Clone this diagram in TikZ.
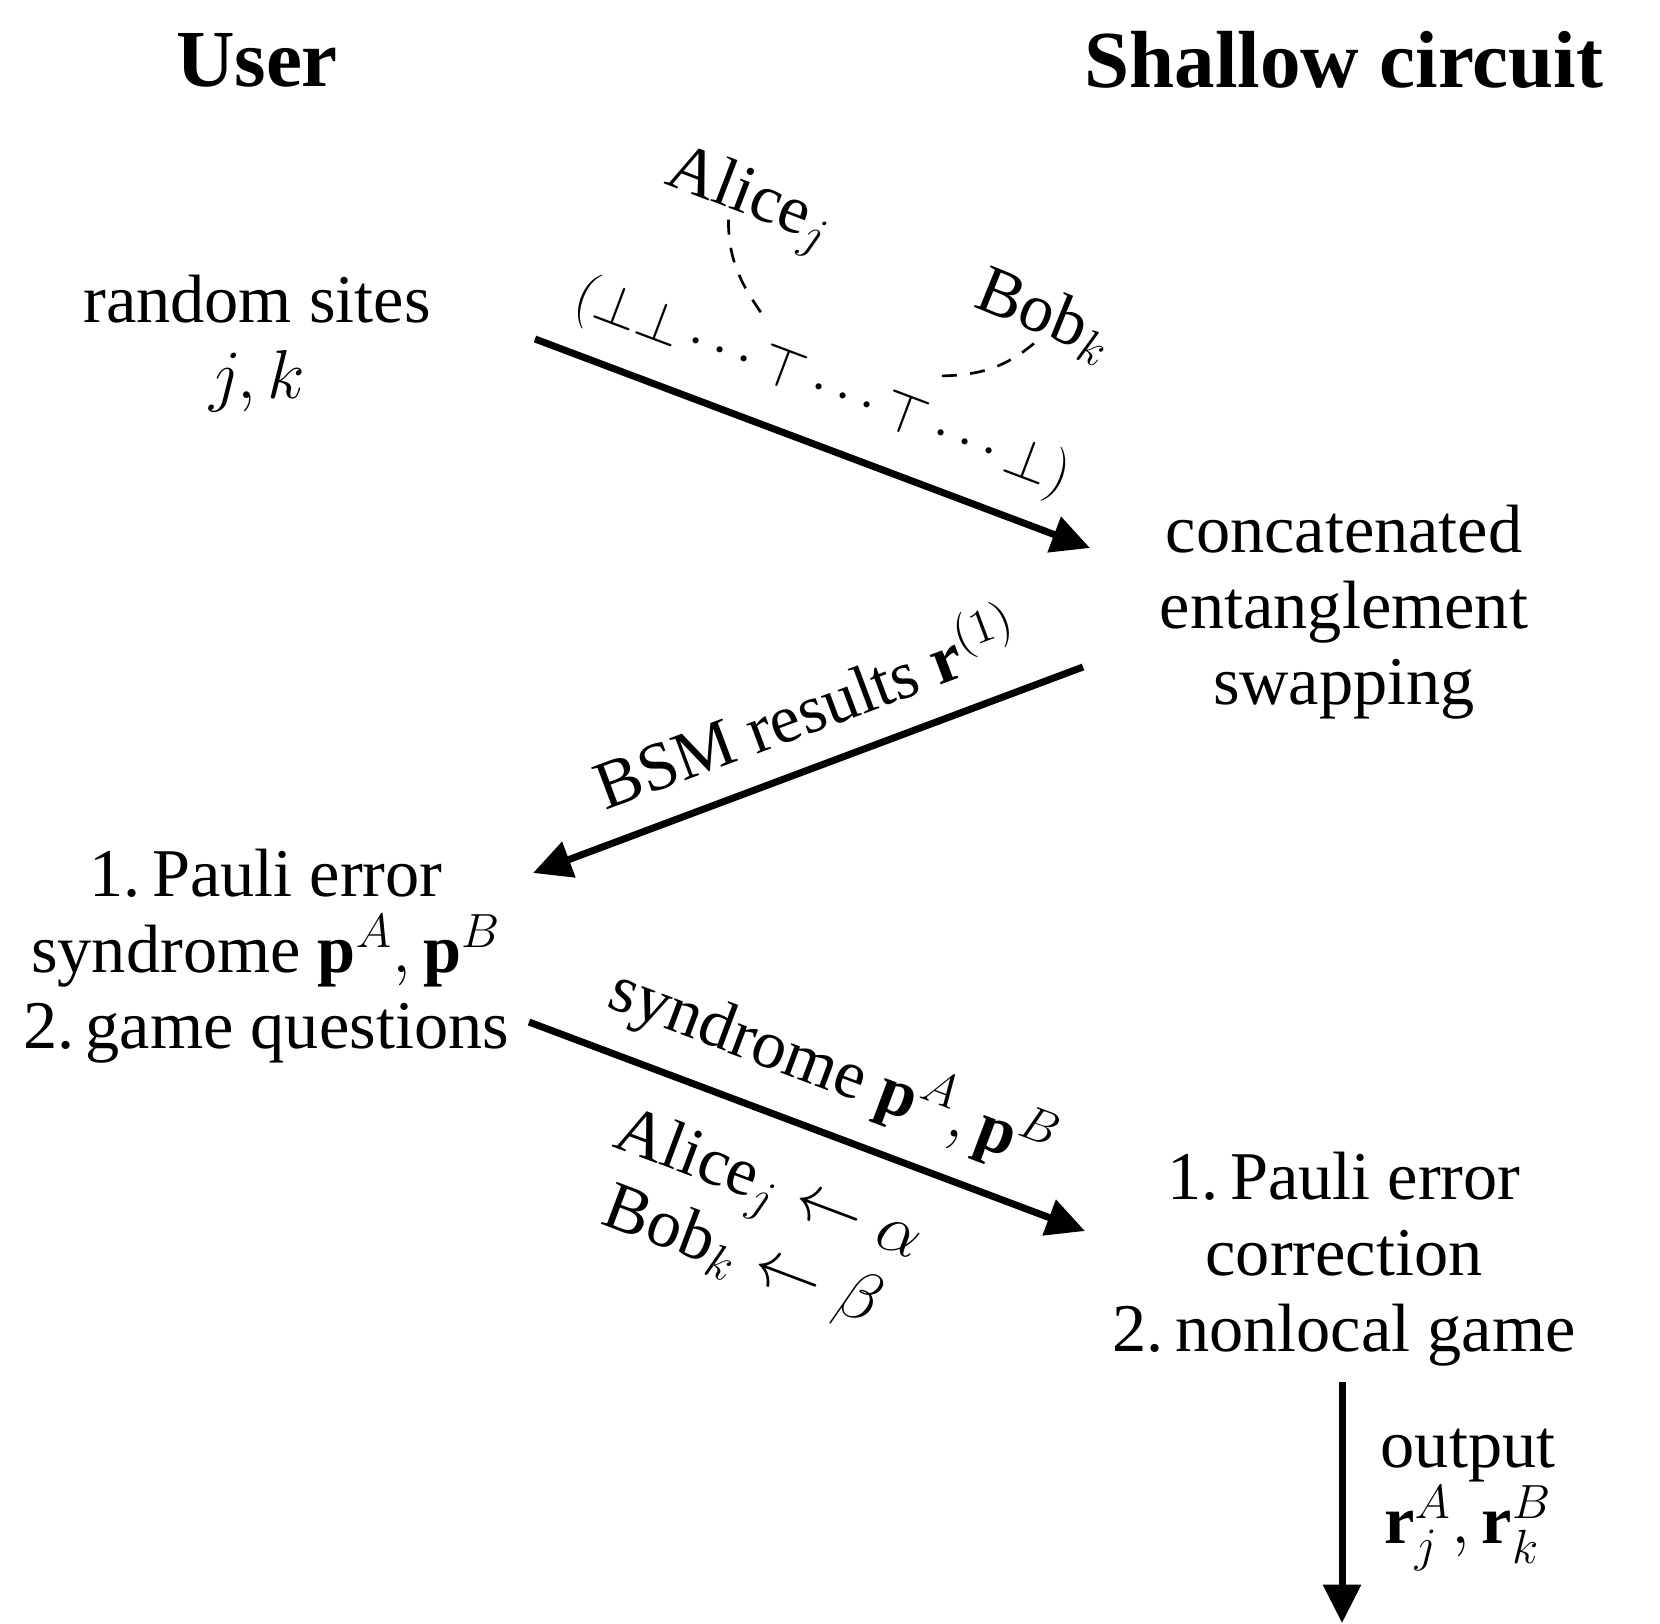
\documentclass[tikz,border=0pt]{standalone}
\usepackage{amsmath,amssymb}
\usepackage{fontspec}
\setmainfont{Liberation Serif}
\usepackage{tikz}
\usetikzlibrary{arrows.meta,calc}
\tikzset{
  >={Triangle[length=11.5pt,width=11pt]},
  flow/.style={->,line width=2.1pt},
  dlink/.style={dash pattern=on 4.5pt off 4pt,line width=0.8pt},
  hdr/.style={font=\fontsize{24.3}{28}\selectfont\bfseries,inner sep=0pt},
  txt/.style={align=center,inner sep=0pt},
  albl/.style={inner sep=0pt},
}

\begin{document}
\begin{tikzpicture}[x=0.3pt,y=0.3pt,
    every node/.style={font=\fontsize{20.5}{22.8}\selectfont}]
  \useasboundingbox (0,0) rectangle (1660,1623);
  % headers
  \node[hdr] (user) at (257,1563) {User};
  \node[hdr] (shallow) at (1344,1563) {Shallow circuit};
  % user and circuit steps
  \node[txt] (rs) at (257,1279) {random sites\\$j,k$};
  \node[txt] (cs) at (1344,1011) {concatenated\\entanglement\\swapping};
  \node[txt] (pe1) at (266,667) {1.\,Pauli error\\syndrome $\mathbf{p}^A,\mathbf{p}^B$\\2.\,game questions};
  \node[txt] (pe2) at (1344,364) {1.\,Pauli error\\correction\\2.\,nonlocal game};
  \node[txt] (out) at (1468,123) {output\\$\mathbf{r}_j^A,\mathbf{r}_k^B$};
  % arrow ends
  \coordinate (a1s) at (535,1284);
  \coordinate (a1e) at (1090,1075);
  \coordinate (a2s) at (1083,956);
  \coordinate (a2e) at (533,750);
  \coordinate (a3s) at (529,601);
  \coordinate (a3e) at (1085,392);
  \coordinate (a4s) at (1342,241);
  \coordinate (a4e) at (1342,0);
  \draw[flow] (a1s) -- (a1e);
  \draw[flow] (a2s) -- (a2e);
  \draw[flow] (a3s) -- (a3e);
  \draw[flow] (a4s) -- (a4e);
  % messages
  \node[albl,rotate=-20.6,font=\fontsize{19}{22}\selectfont] (bits) at (822,1235)
    {$(\bot\bot\,{\cdots}\,\top\,{\cdots}\,\top\,{\cdots}\,\bot)$};
  \node[albl,rotate=20.5] (bsm) at (805,919) {BSM results $\mathbf{r}^{(1)}$};
  \node[albl,rotate=-20.6] (synd) at (833,554) {syndrome $\mathbf{p}^A,\mathbf{p}^B$};
  \node[txt,rotate=-20.6] (rules) at (755,400) {Alice$_j\leftarrow\alpha$\\Bob$_k\leftarrow\beta$};
  \node[albl,rotate=-21] (alice) at (749,1422) {Alice$_j$};
  \node[albl,rotate=-22] (bob) at (1045,1307) {Bob$_k$};
  \coordinate (tA) at (762,1309);
  \coordinate (tB) at (934,1247);
  \draw[dlink] ([xshift=-2.5pt,yshift=4pt]alice.south) to[out=-90,in=125] (tA);
  \draw[dlink] (bob.south) to[out=220,in=0] (tB);
\end{tikzpicture}
\end{document}
